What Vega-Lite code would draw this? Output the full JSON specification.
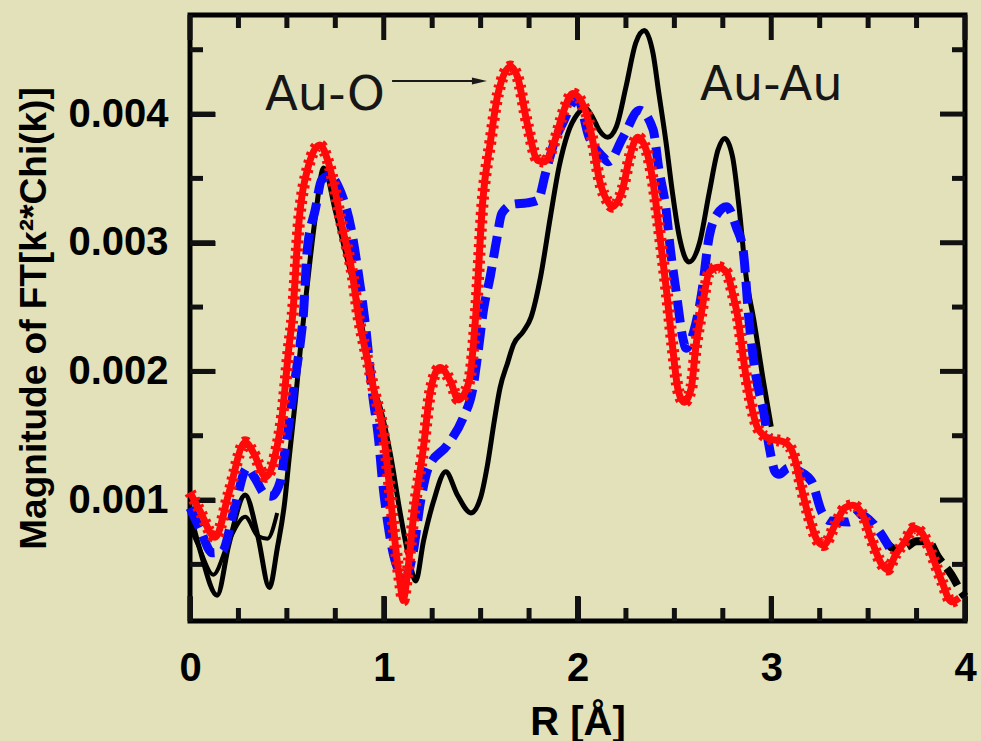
{
  "$schema": "https://vega.github.io/schema/vega-lite/v6.json",
  "width": 775,
  "height": 606,
  "autosize": "none",
  "padding": {"left": 190, "top": 15, "right": 16, "bottom": 120},
  "background": "#e2e1b9",
  "config": {
    "view": {"stroke": "black", "strokeWidth": 5},
    "axis": {"labelColor": "black", "labelFont": "Liberation Sans", "labelFontWeight": "bold", "labelFontSize": 40, "titleColor": "black", "labelOverlap": false, "labelFlush": false}
  },
  "datasets": {
    "tickmarks": [
      {"axis":"x","major":true,"R":0},{"axis":"x","major":true,"R":1},{"axis":"x","major":true,"R":2},{"axis":"x","major":true,"R":3},{"axis":"x","major":true,"R":4},
      {"axis":"x","major":false,"R":0.25},{"axis":"x","major":false,"R":0.5},{"axis":"x","major":false,"R":0.75},{"axis":"x","major":false,"R":1.25},{"axis":"x","major":false,"R":1.5},{"axis":"x","major":false,"R":1.75},{"axis":"x","major":false,"R":2.25},{"axis":"x","major":false,"R":2.5},{"axis":"x","major":false,"R":2.75},{"axis":"x","major":false,"R":3.25},{"axis":"x","major":false,"R":3.5},{"axis":"x","major":false,"R":3.75},
      {"axis":"y","major":true,"V":0.001},{"axis":"y","major":true,"V":0.002},{"axis":"y","major":true,"V":0.003},{"axis":"y","major":true,"V":0.004},
      {"axis":"y","major":false,"V":0.0005},{"axis":"y","major":false,"V":0.0015},{"axis":"y","major":false,"V":0.0025},{"axis":"y","major":false,"V":0.0035},{"axis":"y","major":false,"V":0.0045}
    ],
    "curves": [
      {"s":"kd","seg":1,"R":0,"V":0.00079},{"s":"kd","seg":1,"R":0.05,"V":0.00062},{"s":"kd","seg":1,"R":0.12,"V":0.00042},{"s":"kd","seg":1,"R":0.2,"V":0.00068},{"s":"kd","seg":1,"R":0.285,"V":0.00087},{"s":"kd","seg":1,"R":0.35,"V":0.00072},{"s":"kd","seg":1,"R":0.4,"V":0.0007},{"s":"kd","seg":1,"R":0.45,"V":0.0009},
      {"s":"kd","seg":2,"R":3.58,"V":0.0007},{"s":"kd","seg":2,"R":3.64,"V":0.00062},{"s":"kd","seg":2,"R":3.69,"V":0.00063},{"s":"kd","seg":2,"R":3.75,"V":0.00068},{"s":"kd","seg":2,"R":3.81,"V":0.00068},{"s":"kd","seg":2,"R":3.86,"V":0.00056},{"s":"kd","seg":2,"R":3.93,"V":0.00042},{"s":"kd","seg":2,"R":3.98,"V":0.00029},{"s":"kd","seg":2,"R":4.0,"V":0.00025},
      {"s":"k","R":0,"V":0.0009},{"s":"k","R":0.05,"V":0.00062},{"s":"k","R":0.14,"V":0.00026},{"s":"k","R":0.2,"V":0.00065},{"s":"k","R":0.285,"V":0.00104},{"s":"k","R":0.35,"V":0.00072},{"s":"k","R":0.41,"V":0.00032},{"s":"k","R":0.45,"V":0.00062},{"s":"k","R":0.49,"V":0.001},{"s":"k","R":0.51,"V":0.0013},{"s":"k","R":0.545,"V":0.00179},{"s":"k","R":0.57,"V":0.00218},{"s":"k","R":0.595,"V":0.00253},{"s":"k","R":0.62,"V":0.00287},{"s":"k","R":0.647,"V":0.0032},{"s":"k","R":0.69,"V":0.00358},{"s":"k","R":0.75,"V":0.00325},{"s":"k","R":0.8,"V":0.00294},{"s":"k","R":0.855,"V":0.00261},{"s":"k","R":0.9,"V":0.00225},{"s":"k","R":0.94,"V":0.00192},{"s":"k","R":0.985,"V":0.0017},{"s":"k","R":1.035,"V":0.00135},{"s":"k","R":1.086,"V":0.00089},{"s":"k","R":1.13,"V":0.00055},{"s":"k","R":1.165,"V":0.00037},{"s":"k","R":1.205,"V":0.00068},{"s":"k","R":1.257,"V":0.00099},{"s":"k","R":1.32,"V":0.00122},{"s":"k","R":1.38,"V":0.00104},{"s":"k","R":1.45,"V":0.0009},{"s":"k","R":1.5,"V":0.00102},{"s":"k","R":1.535,"V":0.00127},{"s":"k","R":1.57,"V":0.00161},{"s":"k","R":1.6,"V":0.00187},{"s":"k","R":1.64,"V":0.00207},{"s":"k","R":1.67,"V":0.00221},{"s":"k","R":1.72,"V":0.00231},{"s":"k","R":1.76,"V":0.00242},{"s":"k","R":1.81,"V":0.00274},{"s":"k","R":1.86,"V":0.0032},{"s":"k","R":1.905,"V":0.00359},{"s":"k","R":1.95,"V":0.00385},{"s":"k","R":2.0,"V":0.004},{"s":"k","R":2.04,"V":0.00405},{"s":"k","R":2.08,"V":0.00397},{"s":"k","R":2.11,"V":0.00388},{"s":"k","R":2.155,"V":0.00382},{"s":"k","R":2.2,"V":0.0039},{"s":"k","R":2.25,"V":0.00421},{"s":"k","R":2.3,"V":0.00455},{"s":"k","R":2.345,"V":0.00465},{"s":"k","R":2.39,"V":0.00447},{"s":"k","R":2.42,"V":0.00416},{"s":"k","R":2.457,"V":0.00378},{"s":"k","R":2.49,"V":0.00339},{"s":"k","R":2.525,"V":0.00305},{"s":"k","R":2.575,"V":0.00285},{"s":"k","R":2.63,"V":0.003},{"s":"k","R":2.68,"V":0.00339},{"s":"k","R":2.725,"V":0.00372},{"s":"k","R":2.76,"V":0.00381},{"s":"k","R":2.8,"V":0.00367},{"s":"k","R":2.835,"V":0.00326},{"s":"k","R":2.87,"V":0.00274},{"s":"k","R":2.91,"V":0.0024},{"s":"k","R":2.96,"V":0.00192},{"s":"k","R":3.0,"V":0.00157},
      {"s":"b","R":0,"V":0.00094},{"s":"b","R":0.05,"V":0.00078},{"s":"b","R":0.115,"V":0.00059},{"s":"b","R":0.165,"V":0.0006},{"s":"b","R":0.23,"V":0.00094},{"s":"b","R":0.295,"V":0.00125},{"s":"b","R":0.335,"V":0.00117},{"s":"b","R":0.39,"V":0.00104},{"s":"b","R":0.42,"V":0.00103},{"s":"b","R":0.465,"V":0.00114},{"s":"b","R":0.49,"V":0.00138},{"s":"b","R":0.52,"V":0.00169},{"s":"b","R":0.545,"V":0.00197},{"s":"b","R":0.57,"V":0.00223},{"s":"b","R":0.585,"V":0.00244},{"s":"b","R":0.605,"V":0.00294},{"s":"b","R":0.647,"V":0.00326},{"s":"b","R":0.68,"V":0.00349},{"s":"b","R":0.72,"V":0.00352},{"s":"b","R":0.776,"V":0.0034},{"s":"b","R":0.83,"V":0.00312},{"s":"b","R":0.87,"V":0.00275},{"s":"b","R":0.91,"V":0.0023},{"s":"b","R":0.94,"V":0.00185},{"s":"b","R":0.975,"V":0.00145},{"s":"b","R":0.99,"V":0.0012},{"s":"b","R":1.02,"V":0.00083},{"s":"b","R":1.06,"V":0.00052},{"s":"b","R":1.11,"V":0.0004},{"s":"b","R":1.15,"V":0.00058},{"s":"b","R":1.19,"V":0.00099},{"s":"b","R":1.23,"V":0.00125},{"s":"b","R":1.33,"V":0.00143},{"s":"b","R":1.41,"V":0.00164},{"s":"b","R":1.46,"V":0.00187},{"s":"b","R":1.485,"V":0.00213},{"s":"b","R":1.515,"V":0.00248},{"s":"b","R":1.55,"V":0.00274},{"s":"b","R":1.58,"V":0.003},{"s":"b","R":1.61,"V":0.00323},{"s":"b","R":1.67,"V":0.0033},{"s":"b","R":1.74,"V":0.00331},{"s":"b","R":1.795,"V":0.00333},{"s":"b","R":1.835,"V":0.00354},{"s":"b","R":1.88,"V":0.00378},{"s":"b","R":1.93,"V":0.00395},{"s":"b","R":1.975,"V":0.00409},{"s":"b","R":2.0,"V":0.00412},{"s":"b","R":2.06,"V":0.00382},{"s":"b","R":2.13,"V":0.00367},{"s":"b","R":2.16,"V":0.00363},{"s":"b","R":2.235,"V":0.00382},{"s":"b","R":2.32,"V":0.00403},{"s":"b","R":2.39,"V":0.00388},{"s":"b","R":2.42,"V":0.00357},{"s":"b","R":2.457,"V":0.00326},{"s":"b","R":2.48,"V":0.00294},{"s":"b","R":2.51,"V":0.00261},{"s":"b","R":2.545,"V":0.00225},{"s":"b","R":2.56,"V":0.00218},{"s":"b","R":2.6,"V":0.00231},{"s":"b","R":2.64,"V":0.0026},{"s":"b","R":2.68,"V":0.00305},{"s":"b","R":2.72,"V":0.00322},{"s":"b","R":2.77,"V":0.00328},{"s":"b","R":2.82,"V":0.00312},{"s":"b","R":2.855,"V":0.00294},{"s":"b","R":2.885,"V":0.0024},{"s":"b","R":2.92,"V":0.00197},{"s":"b","R":2.96,"V":0.00169},{"s":"b","R":2.99,"V":0.00141},{"s":"b","R":3.02,"V":0.00122},{"s":"b","R":3.04,"V":0.0012},{"s":"b","R":3.09,"V":0.00125},{"s":"b","R":3.15,"V":0.00122},{"s":"b","R":3.21,"V":0.00114},{"s":"b","R":3.26,"V":0.00091},{"s":"b","R":3.3,"V":0.00084},{"s":"b","R":3.4,"V":0.00083},{"s":"b","R":3.45,"V":0.00089},{"s":"b","R":3.53,"V":0.00081},{"s":"b","R":3.57,"V":0.00073},{"s":"b","R":3.61,"V":0.00063},
      {"s":"r","R":0,"V":0.00106},{"s":"r","R":0.05,"V":0.00092},{"s":"r","R":0.13,"V":0.00071},{"s":"r","R":0.2,"V":0.00105},{"s":"r","R":0.285,"V":0.00145},{"s":"r","R":0.33,"V":0.00136},{"s":"r","R":0.39,"V":0.00118},{"s":"r","R":0.44,"V":0.00135},{"s":"r","R":0.476,"V":0.00166},{"s":"r","R":0.51,"V":0.00218},{"s":"r","R":0.53,"V":0.00244},{"s":"r","R":0.56,"V":0.00312},{"s":"r","R":0.61,"V":0.00359},{"s":"r","R":0.67,"V":0.00376},{"s":"r","R":0.715,"V":0.00362},{"s":"r","R":0.786,"V":0.00312},{"s":"r","R":0.84,"V":0.00274},{"s":"r","R":0.87,"V":0.00242},{"s":"r","R":0.9,"V":0.0022},{"s":"r","R":0.95,"V":0.00185},{"s":"r","R":1.0,"V":0.0015},{"s":"r","R":1.03,"V":0.0011},{"s":"r","R":1.06,"V":0.00065},{"s":"r","R":1.085,"V":0.00035},{"s":"r","R":1.1,"V":0.00022},{"s":"r","R":1.12,"V":0.0004},{"s":"r","R":1.155,"V":0.00089},{"s":"r","R":1.205,"V":0.00141},{"s":"r","R":1.24,"V":0.00184},{"s":"r","R":1.29,"V":0.00203},{"s":"r","R":1.345,"V":0.00192},{"s":"r","R":1.385,"V":0.00178},{"s":"r","R":1.44,"V":0.00192},{"s":"r","R":1.475,"V":0.00244},{"s":"r","R":1.51,"V":0.00331},{"s":"r","R":1.55,"V":0.00378},{"s":"r","R":1.59,"V":0.00416},{"s":"r","R":1.655,"V":0.00437},{"s":"r","R":1.69,"V":0.00429},{"s":"r","R":1.74,"V":0.00393},{"s":"r","R":1.795,"V":0.00364},{"s":"r","R":1.83,"V":0.00363},{"s":"r","R":1.88,"V":0.00378},{"s":"r","R":1.93,"V":0.00403},{"s":"r","R":1.975,"V":0.00416},{"s":"r","R":2.04,"V":0.00403},{"s":"r","R":2.08,"V":0.00378},{"s":"r","R":2.11,"V":0.00351},{"s":"r","R":2.16,"V":0.00331},{"s":"r","R":2.18,"V":0.00328},{"s":"r","R":2.235,"V":0.00343},{"s":"r","R":2.27,"V":0.00367},{"s":"r","R":2.31,"V":0.00382},{"s":"r","R":2.355,"V":0.00372},{"s":"r","R":2.39,"V":0.00347},{"s":"r","R":2.42,"V":0.00312},{"s":"r","R":2.46,"V":0.00262},{"s":"r","R":2.49,"V":0.0022},{"s":"r","R":2.52,"V":0.00185},{"s":"r","R":2.55,"V":0.00176},{"s":"r","R":2.587,"V":0.00187},{"s":"r","R":2.61,"V":0.00218},{"s":"r","R":2.64,"V":0.00246},{"s":"r","R":2.68,"V":0.00277},{"s":"r","R":2.725,"V":0.00281},{"s":"r","R":2.77,"V":0.00277},{"s":"r","R":2.8,"V":0.00261},{"s":"r","R":2.83,"V":0.0024},{"s":"r","R":2.855,"V":0.00211},{"s":"r","R":2.89,"V":0.00179},{"s":"r","R":2.93,"V":0.00156},{"s":"r","R":2.985,"V":0.00148},{"s":"r","R":3.07,"V":0.00145},{"s":"r","R":3.12,"V":0.00133},{"s":"r","R":3.155,"V":0.0011},{"s":"r","R":3.19,"V":0.00089},{"s":"r","R":3.24,"V":0.00068},{"s":"r","R":3.27,"V":0.00065},{"s":"r","R":3.33,"V":0.00081},{"s":"r","R":3.38,"V":0.00094},{"s":"r","R":3.42,"V":0.00096},{"s":"r","R":3.47,"V":0.00089},{"s":"r","R":3.52,"V":0.00068},{"s":"r","R":3.57,"V":0.0005},{"s":"r","R":3.6,"V":0.00046},{"s":"r","R":3.64,"V":0.00057},{"s":"r","R":3.69,"V":0.00068},{"s":"r","R":3.735,"V":0.00078},{"s":"r","R":3.775,"V":0.00075},{"s":"r","R":3.83,"V":0.00057},{"s":"r","R":3.88,"V":0.00037},{"s":"r","R":3.93,"V":0.00021},{"s":"r","R":3.97,"V":0.00024}
    ],
    "notes": [
      {"kind":"label","R":0.387,"V":0.00403,"label":"Au-O"},
      {"kind":"label","R":2.632,"V":0.00411,"label":"Au-Au"},
      {"kind":"arrow","R":1.043,"R2":1.47,"V":0.004257},
      {"kind":"head","R":1.494,"V":0.004257}
    ]
  },
  "layer": [
    {
      "data": {"name": "curves"},
      "transform": [{"filter": "datum.s === 'kd' && datum.seg === 1"}],
      "mark": {"type": "line", "color": "black", "strokeWidth": 4, "interpolate": "monotone"},
      "encoding": {
        "x": {"field": "R", "type": "quantitative", "scale": {"domain": [0, 4], "nice": false, "zero": false},
          "axis": {"orient": "bottom", "values": [0, 1, 2, 3, 4], "format": "d", "offset": -25, "tickSize": 25, "tickColor": "#111111", "tickWidth": 5, "grid": false, "domain": false, "labelPadding": 27, "title": "R [Å]", "titleFont": "Liberation Sans", "titleFontSize": 40, "titleFontWeight": "bold", "titlePadding": 14}},
        "y": {"field": "V", "type": "quantitative", "scale": {"domain": [0.00006, 0.00477], "nice": false, "zero": false},
          "axis": {"orient": "left", "values": [0.001, 0.002, 0.003, 0.004], "format": ".3f", "offset": -25, "tickSize": 25, "tickColor": "#111111", "tickWidth": 5, "grid": false, "domain": false, "labelPadding": 22, "title": "Magnitude of FT[k²*Chi(k)]", "titleFont": "Liberation Sans", "titleFontSize": 37, "titleFontWeight": "bold", "titlePadding": 14}}
      }
    },
    {
      "data": {"name": "tickmarks"},
      "transform": [{"filter": "datum.axis === 'x' && datum.major"}],
      "mark": {"type": "tick", "orient": "vertical", "size": 25, "thickness": 5, "color": "#111111", "opacity": 1},
      "encoding": {"x": {"field": "R", "type": "quantitative"}, "y": {"datum": 0.00015715, "type": "quantitative"}}
    },
    {
      "data": {"name": "tickmarks"},
      "transform": [{"filter": "datum.axis === 'x' && datum.major"}],
      "mark": {"type": "tick", "orient": "vertical", "size": 25, "thickness": 5, "color": "#111111", "opacity": 1},
      "encoding": {"x": {"field": "R", "type": "quantitative"}, "y": {"datum": 0.00467285, "type": "quantitative"}}
    },
    {
      "data": {"name": "tickmarks"},
      "transform": [{"filter": "datum.axis === 'x' && !datum.major"}],
      "mark": {"type": "tick", "orient": "vertical", "size": 13, "thickness": 5, "color": "#111111", "opacity": 1},
      "encoding": {"x": {"field": "R", "type": "quantitative"}, "y": {"datum": 0.00011052, "type": "quantitative"}}
    },
    {
      "data": {"name": "tickmarks"},
      "transform": [{"filter": "datum.axis === 'x' && !datum.major"}],
      "mark": {"type": "tick", "orient": "vertical", "size": 13, "thickness": 5, "color": "#111111", "opacity": 1},
      "encoding": {"x": {"field": "R", "type": "quantitative"}, "y": {"datum": 0.00471948, "type": "quantitative"}}
    },
    {
      "data": {"name": "tickmarks"},
      "transform": [{"filter": "datum.axis === 'y' && datum.major"}],
      "mark": {"type": "tick", "orient": "horizontal", "size": 25, "thickness": 5, "color": "#111111", "opacity": 1},
      "encoding": {"y": {"field": "V", "type": "quantitative"}, "x": {"datum": 0.064516, "type": "quantitative"}}
    },
    {
      "data": {"name": "tickmarks"},
      "transform": [{"filter": "datum.axis === 'y' && datum.major"}],
      "mark": {"type": "tick", "orient": "horizontal", "size": 25, "thickness": 5, "color": "#111111", "opacity": 1},
      "encoding": {"y": {"field": "V", "type": "quantitative"}, "x": {"datum": 3.935484, "type": "quantitative"}}
    },
    {
      "data": {"name": "tickmarks"},
      "transform": [{"filter": "datum.axis === 'y' && !datum.major"}],
      "mark": {"type": "tick", "orient": "horizontal", "size": 13, "thickness": 5, "color": "#111111", "opacity": 1},
      "encoding": {"y": {"field": "V", "type": "quantitative"}, "x": {"datum": 0.033548, "type": "quantitative"}}
    },
    {
      "data": {"name": "tickmarks"},
      "transform": [{"filter": "datum.axis === 'y' && !datum.major"}],
      "mark": {"type": "tick", "orient": "horizontal", "size": 13, "thickness": 5, "color": "#111111", "opacity": 1},
      "encoding": {"y": {"field": "V", "type": "quantitative"}, "x": {"datum": 3.966452, "type": "quantitative"}}
    },
    {
      "data": {"name": "curves"},
      "transform": [{"filter": "datum.s === 'kd' && datum.seg === 2"}],
      "mark": {"type": "line", "color": "black", "strokeWidth": 8, "strokeDash": [20, 8], "interpolate": "monotone"},
      "encoding": {"x": {"field": "R", "type": "quantitative"}, "y": {"field": "V", "type": "quantitative"}}
    },
    {
      "data": {"name": "curves"},
      "transform": [{"filter": "datum.s === 'k'"}],
      "mark": {"type": "line", "color": "black", "strokeWidth": 5, "interpolate": "monotone"},
      "encoding": {"x": {"field": "R", "type": "quantitative"}, "y": {"field": "V", "type": "quantitative"}}
    },
    {
      "data": {"name": "curves"},
      "transform": [{"filter": "datum.s === 'b'"}],
      "mark": {"type": "line", "color": "#0a0aff", "strokeWidth": 9, "strokeDash": [22, 9], "interpolate": "monotone"},
      "encoding": {"x": {"field": "R", "type": "quantitative"}, "y": {"field": "V", "type": "quantitative"}}
    },
    {
      "data": {"name": "curves"},
      "transform": [{"filter": "datum.s === 'r'"}],
      "mark": {"type": "line", "color": "#ff0a0a", "strokeWidth": 7, "interpolate": "monotone"},
      "encoding": {"x": {"field": "R", "type": "quantitative"}, "y": {"field": "V", "type": "quantitative"}}
    },
    {
      "data": {"name": "curves"},
      "transform": [{"filter": "datum.s === 'r'"}],
      "mark": {"type": "line", "color": "#ff0a0a", "strokeWidth": 12, "strokeDash": [3, 5], "interpolate": "monotone"},
      "encoding": {"x": {"field": "R", "type": "quantitative"}, "y": {"field": "V", "type": "quantitative"}}
    },
    {
      "data": {"name": "notes"},
      "transform": [{"filter": "datum.kind === 'arrow'"}],
      "mark": {"type": "rule", "color": "#1a1a1a", "strokeWidth": 2},
      "encoding": {"x": {"field": "R", "type": "quantitative"}, "x2": {"field": "R2"}, "y": {"field": "V", "type": "quantitative"}}
    },
    {
      "data": {"name": "notes"},
      "transform": [{"filter": "datum.kind === 'head'"}],
      "mark": {"type": "point", "shape": "M -1,-0.47 L 1,0 L -1,0.47 Z", "size": 225, "filled": true, "color": "#1a1a1a", "opacity": 1},
      "encoding": {"x": {"field": "R", "type": "quantitative"}, "y": {"field": "V", "type": "quantitative"}}
    },
    {
      "data": {"name": "notes"},
      "transform": [{"filter": "datum.kind === 'label'"}],
      "mark": {"type": "text", "align": "left", "baseline": "alphabetic", "font": "DejaVu Sans", "fontSize": 48, "color": "#161616"},
      "encoding": {"x": {"field": "R", "type": "quantitative"}, "y": {"field": "V", "type": "quantitative"}, "text": {"field": "label"}}
    }
  ]
}
